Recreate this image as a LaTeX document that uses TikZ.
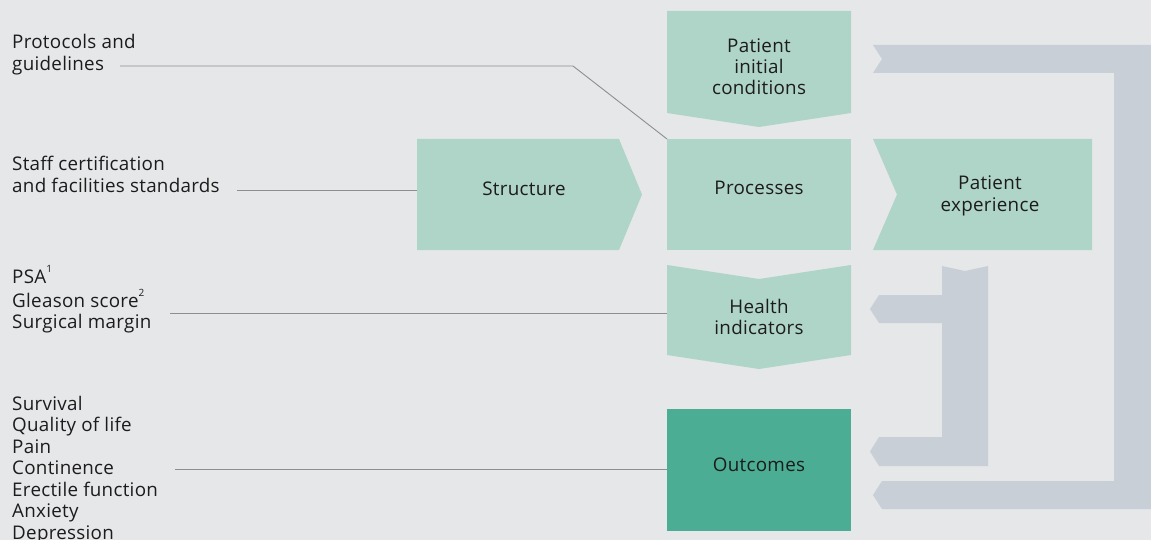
\documentclass[tikz,border=0pt]{standalone}
\usepackage{fontspec}
\setmainfont{Open Sans}[LetterSpace=1.5]
\definecolor{bgc}{HTML}{E6E7E9}
\definecolor{lgreen}{HTML}{AFD4C8}
\definecolor{dgreen}{HTML}{4AAD94}
\definecolor{garrow}{HTML}{C8CFD6}
\definecolor{lnc}{HTML}{8E8E8E}
\definecolor{txt}{HTML}{1C1C1C}
\newcommand{\stk}[2]{\begin{tabular}[t]{@{}#1@{}}#2\end{tabular}}
\newcommand{\sups}[1]{\raisebox{0.55em}{\fontsize{10}{10}\selectfont #1}}
\tikzset{
  frame/.style={inner sep=0pt, outer sep=0pt, draw=none},
  lbl/.style={inner sep=0pt, text=txt, font=\fontsize{18.8}{21.5}\selectfont, anchor=base west},
  btxt/.style={inner sep=0pt, text=txt, font=\fontsize{18.8}{21}\selectfont, anchor=base},
  conn/.style={draw=lnc, line width=0.9pt},
}
\begin{document}
\begin{tikzpicture}[x=1pt,y=-1pt]
\fill[bgc] (0,0) rectangle (1151,540);
\useasboundingbox (0,0) rectangle (1151,540);

% frames of boxes
\node[frame, minimum width=184pt, minimum height=116pt] (pic) at (759,69) {};
\node[frame, minimum width=184pt, minimum height=111pt] (proc) at (759,194.5) {};
\node[frame, minimum width=219pt, minimum height=111pt] (exp) at (982.5,194.5) {};
\node[frame, minimum width=225pt, minimum height=111pt] (str) at (529.5,194.5) {};
\node[frame, minimum width=184pt, minimum height=104pt] (hi) at (759,317) {};
\node[frame, minimum width=184pt, minimum height=122pt] (out) at (759,470) {};

% shapes
\fill[lgreen] (pic.north west) -- (pic.north east) -- (851,113) -- (759,127) -- (667,113) -- cycle;
\fill[lgreen] (proc.north west) rectangle (proc.south east);
\fill[lgreen] (exp.north west) -- (exp.north east) -- (exp.south east) -- (exp.south west) -- (897,194.5) -- cycle;
\fill[lgreen] (str.north west) -- (619,139) -- (str.east) -- (619,250) -- (str.south west) -- cycle;
\fill[lgreen] (667,265) -- (759,279) -- (851,265) -- (851,355) -- (759,369) -- (667,355) -- cycle;
\fill[dgreen] (out.north west) rectangle (out.south east);

% feedback arrows
\fill[garrow] (873,45) -- (1160,45) -- (1160,509) -- (882,509) -- (873,495) -- (882,481)
  -- (1114,481) -- (1114,73) -- (873,73) -- (882,59) -- cycle;
\fill[garrow] (942,266) -- (965,271) -- (988,266) -- (988,466) -- (879,466) -- (870,451.5)
  -- (879,437) -- (942,437) -- (942,323) -- (879,323) -- (870,309) -- (879,295) -- (942,295) -- cycle;

% box texts
\node[btxt] (tpic) at (759,53) {\stk{c}{Patient\\initial\\conditions}};
\node[btxt] (tproc) at (759,195) {Processes};
\node[btxt] (texp) at (990,190) {\stk{c}{Patient\\experience}};
\node[btxt] (tstr) at (524,196) {Structure};
\node[btxt] (thi) at (759,313) {\stk{c}{Health\\indicators}};
\node[btxt] (tout) at (759,471) {Outcomes};

% left labels
\node[lbl] (l1) at (12,49) {\stk{l}{Protocols and\\guidelines}};
\node[lbl] (l2) at (12,171) {\stk{l}{Staff certification\\and facilities standards}};
\node[lbl] (l3) at (12,283) {\stk{l}{PSA\sups{1}\\Gleason score\sups{2}\\Surgical margin}};
\node[lbl] (l4) at (12,410) {\stk{l}{Survival\\Quality of life\\Pain\\Continence\\Erectile function\\Anxiety\\Depression}};

% connectors
\coordinate (c1) at (120,66);
\coordinate (c2) at (237,190);
\coordinate (c3) at (170,313);
\coordinate (c4) at (175,469.5);
\draw[conn] (c1) -- (573,66) -- (proc.north west);
\draw[conn] (c2) -- (c2 -| str.west);
\draw[conn] (c3) -- (c3 -| hi.west);
\draw[conn] (c4) -- (c4 -| out.west);
\end{tikzpicture}
\end{document}
